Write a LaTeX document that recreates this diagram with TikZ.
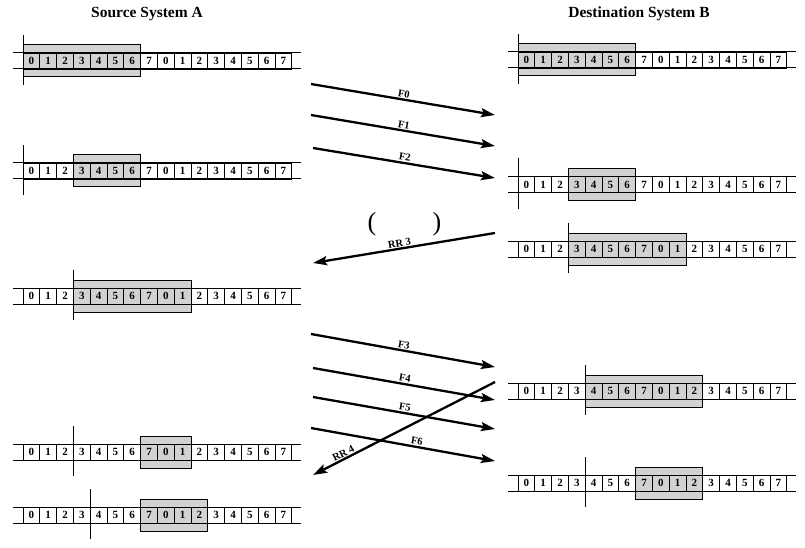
\documentclass[tikz,border=0pt]{standalone}
\usepackage{fontspec}
\setmainfont{Liberation Serif}
\usepackage{tikz}
\usetikzlibrary{arrows.meta,positioning}

\begin{document}
\begin{tikzpicture}[
        x=1pt, y=-1pt,
        cell/.style={draw, minimum width=16.8pt, minimum height=16pt, inner sep=0pt, line width=0.7pt, font=\fontsize{11}{12}\selectfont\bfseries},
        window/.style={draw, fill=gray!35, line width=1pt},
        rail/.style={line width=1pt},
        ptr/.style={line width=1pt},
        msg/.style={line width=2.3pt, -{Stealth[length=14pt,width=9pt,inset=2.5pt]}},
        lbl/.style={font=\fontsize{10.5}{12}\selectfont\bfseries, sloped, above, inner sep=1pt},
        title/.style={font=\fontsize{15.5}{18}\selectfont\bfseries},
        paren/.style={font=\fontsize{26}{28}\selectfont}
      ]
      \useasboundingbox (0,0) rectangle (805,548);
      \node[title] (srcA) at (147,14) {Source System A};
      \node[title] (dstB) at (639,14) {Destination System B};
      \foreach \r/\ox/\y/\p/\a/\b in {a1/23/61/0/0/7, a2/23/171/0/3/7, a3/23/296/3/3/10, a4/23/452/3/7/10, a5/23/515/4/7/11,
                                     b1/518/60/0/0/7, b2/518/184.5/0/3/7, b3/518/249/3/3/10, b4/518/391/4/4/11, b5/518/483/4/7/11} {
        \draw[window] ({\ox+\a*16.8},{\y-16}) rectangle ({\ox+\b*16.8},{\y+16});
        \draw[rail] ({\ox-10},{\y-8}) -- ({\ox+278},{\y-8});
        \draw[rail] ({\ox-10},{\y+8}) -- ({\ox+278},{\y+8});
        \foreach \i in {0,...,15} {
          \pgfmathtruncatemacro{\d}{mod(\i,8)}
          \node[cell] (\r-\i) at ({\ox+\i*16.8+8.4},\y) {\d};
        }
        \draw[ptr] ({\ox+\p*16.8},{\y-26}) -- ({\ox+\p*16.8},{\y+24});
      }
      \coordinate (f0s) at (311,84);
      \coordinate (f0e) at (495,115);
      \coordinate (f1s) at (311,115);
      \coordinate (f1e) at (495,146);
      \coordinate (f2s) at (313,148);
      \coordinate (f2e) at (495,178);
      \coordinate (rr3s) at (495,233);
      \coordinate (rr3e) at (313,263);
      \coordinate (f3s) at (311,334);
      \coordinate (f3e) at (495,367);
      \coordinate (f4s) at (313,368);
      \coordinate (f4e) at (495,400);
      \coordinate (f5s) at (313,397);
      \coordinate (f5e) at (495,429);
      \coordinate (f6s) at (311,428);
      \coordinate (f6e) at (495,461);
      \coordinate (rr4s) at (495,382);
      \coordinate (rr4e) at (313,475);
      \draw[msg] (f0s) -- node[lbl] (f0l) {F0} (f0e);
      \draw[msg] (f1s) -- node[lbl] (f1l) {F1} (f1e);
      \draw[msg] (f2s) -- node[lbl] (f2l) {F2} (f2e);
      \node[paren] (lp) at (372,224) {(};
      \node[paren] (rp) at (437,224) {)};
      \draw[msg] (rr3s) -- node[lbl, pos=0.52] (rr3l) {RR 3} (rr3e);
      \draw[msg] (f3s) -- node[lbl] (f3l) {F3} (f3e);
      \draw[msg] (f4s) -- node[lbl] (f4l) {F4} (f4e);
      \draw[msg] (f5s) -- node[lbl] (f5l) {F5} (f5e);
      \draw[msg] (f6s) -- node[lbl, pos=0.57] (f6l) {F6} (f6e);
      \draw[msg] (rr4s) -- node[lbl, pos=0.82] (rr4l) {RR~4} (rr4e);
    \end{tikzpicture}
\end{document}
